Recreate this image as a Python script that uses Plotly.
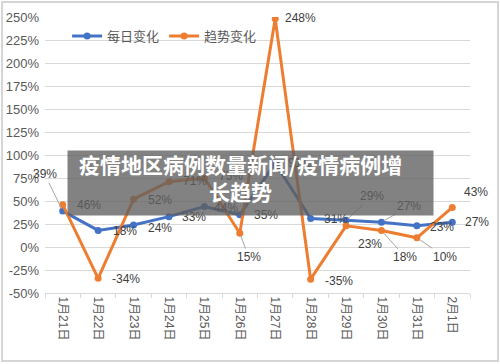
import plotly.graph_objects as go

categories = ["1月21日", "1月22日", "1月23日", "1月24日", "1月25日", "1月26日",
              "1月27日", "1月28日", "1月29日", "1月30日", "1月31日", "2月1日"]
daily_change = [39, 18, 24, 33, 44, 35, 91, 31, 29, 27, 23, 27]
trend_change = [46, -34, 52, 71, 75, 15, 248, -35, 23, 18, 10, 43]
y_ticks = [-50, -25, 0, 25, 50, 75, 100, 125, 150, 175, 200, 225, 250]
y_tick_labels = [f"{t}%" for t in y_ticks]
title_text = "疫情地区病例数量新闻/疫情病例增<br>长趋势"

BLUE = "#4472C4"
ORANGE = "#ED7D31"
FONT = "Liberation Sans, Arial, Noto Sans CJK SC, sans-serif"

# label offsets (pixels): (dx, dy, leader)
daily_off = [(-18, -37, True), (27, 1, False), (26, 3, False), (25, 0, False),
             (22, 1, False), (26, 0, False), (25, 0, False), (25, 1, False),
             (26, -24, True), (28, -16, True), (25, 1, False), (25, 0, False)]
trend_off = [(26, 0, False), (28, 1, False), (26, 1, False), (26, -1, False),
             (27, -2, False), (9, 24, True), (25, -1, False), (28, 2, False),
             (24, 18, False), (24, 27, True), (28, 19, True), (24, -15, False)]

fig = go.Figure()
fig.add_trace(go.Scatter(x=categories, y=daily_change, name="每日变化",
                         mode="lines+markers",
                         line=dict(color=BLUE, width=3),
                         marker=dict(color=BLUE, size=7)))
fig.add_trace(go.Scatter(x=categories, y=trend_change, name="趋势变化",
                         mode="lines+markers",
                         line=dict(color=ORANGE, width=3),
                         marker=dict(color=ORANGE, size=7)))

annotations = []
for series, offs in ((daily_change, daily_off), (trend_change, trend_off)):
    for cat, v, (dx, dy, leader) in zip(categories, series, offs):
        common = dict(x=cat, y=v, xref="x", yref="y", text=f"{v}%",
                      font=dict(family=FONT, size=12, color="#404040"))
        if leader:
            annotations.append(dict(**common, showarrow=True, ax=dx, ay=dy,
                                    axref="pixel", ayref="pixel",
                                    arrowhead=0, arrowwidth=1,
                                    arrowcolor="#A6A6A6", standoff=3))
        else:
            annotations.append(dict(**common, showarrow=False,
                                    xshift=dx, yshift=-dy))

# overlay title box and its text
annotations.append(dict(x=0.0518, y=0.518, xref="paper", yref="paper",
                        xanchor="left", yanchor="top", text=" ",
                        showarrow=False, width=363, height=62,
                        bgcolor="rgba(95,95,95,0.78)"))
annotations.append(dict(x=0.459, y=0.42, xref="paper", yref="paper",
                        xanchor="center", yanchor="middle",
                        text="<b>" + title_text.replace("<br>", "</b><br><b>") + "</b>",
                        showarrow=False, align="center",
                        font=dict(family="Noto Sans CJK SC", size=21, color="white")))

fig.update_layout(
    width=500, height=364,
    margin=dict(l=45, r=30, t=17, b=71, autoexpand=False),
    paper_bgcolor="white", plot_bgcolor="white",
    font=dict(family=FONT, color="#595959"),
    showlegend=True,
    legend=dict(orientation="h", x=0.052, y=0.985, xanchor="left", yanchor="top",
                font=dict(family=FONT, size=13, color="#595959"),
                bgcolor="rgba(0,0,0,0)", itemwidth=30),
    annotations=annotations,
    shapes=[dict(type="rect", xref="paper", yref="paper",
                 x0=-0.101, x1=1.066, y0=-0.246, y1=1.054,
                 line=dict(color="#D5D5D5", width=2), layer="below")],
)
fig.update_yaxes(range=[-50, 250], autorange=False, tickvals=y_ticks,
                 ticktext=y_tick_labels, automargin=False,
                 showgrid=True, gridcolor="#D9D9D9", gridwidth=1,
                 zeroline=False, ticks="", ticklabelstandoff=5,
                 tickfont=dict(family=FONT, size=13, color="#595959"))
fig.update_xaxes(type="category", range=[-0.5, 11.5], autorange=False,
                 automargin=False, tickangle=90, showgrid=False,
                 showline=True, linecolor="#D9D9D9", linewidth=1,
                 ticks="outside", tickson="boundaries", ticklen=4,
                 tickcolor="#D9D9D9",
                 tickfont=dict(family=FONT, size=12, color="#595959"))

fig.write_html("out.html", config={"displayModeBar": False},
               post_script="document.body.style.margin='0';")
